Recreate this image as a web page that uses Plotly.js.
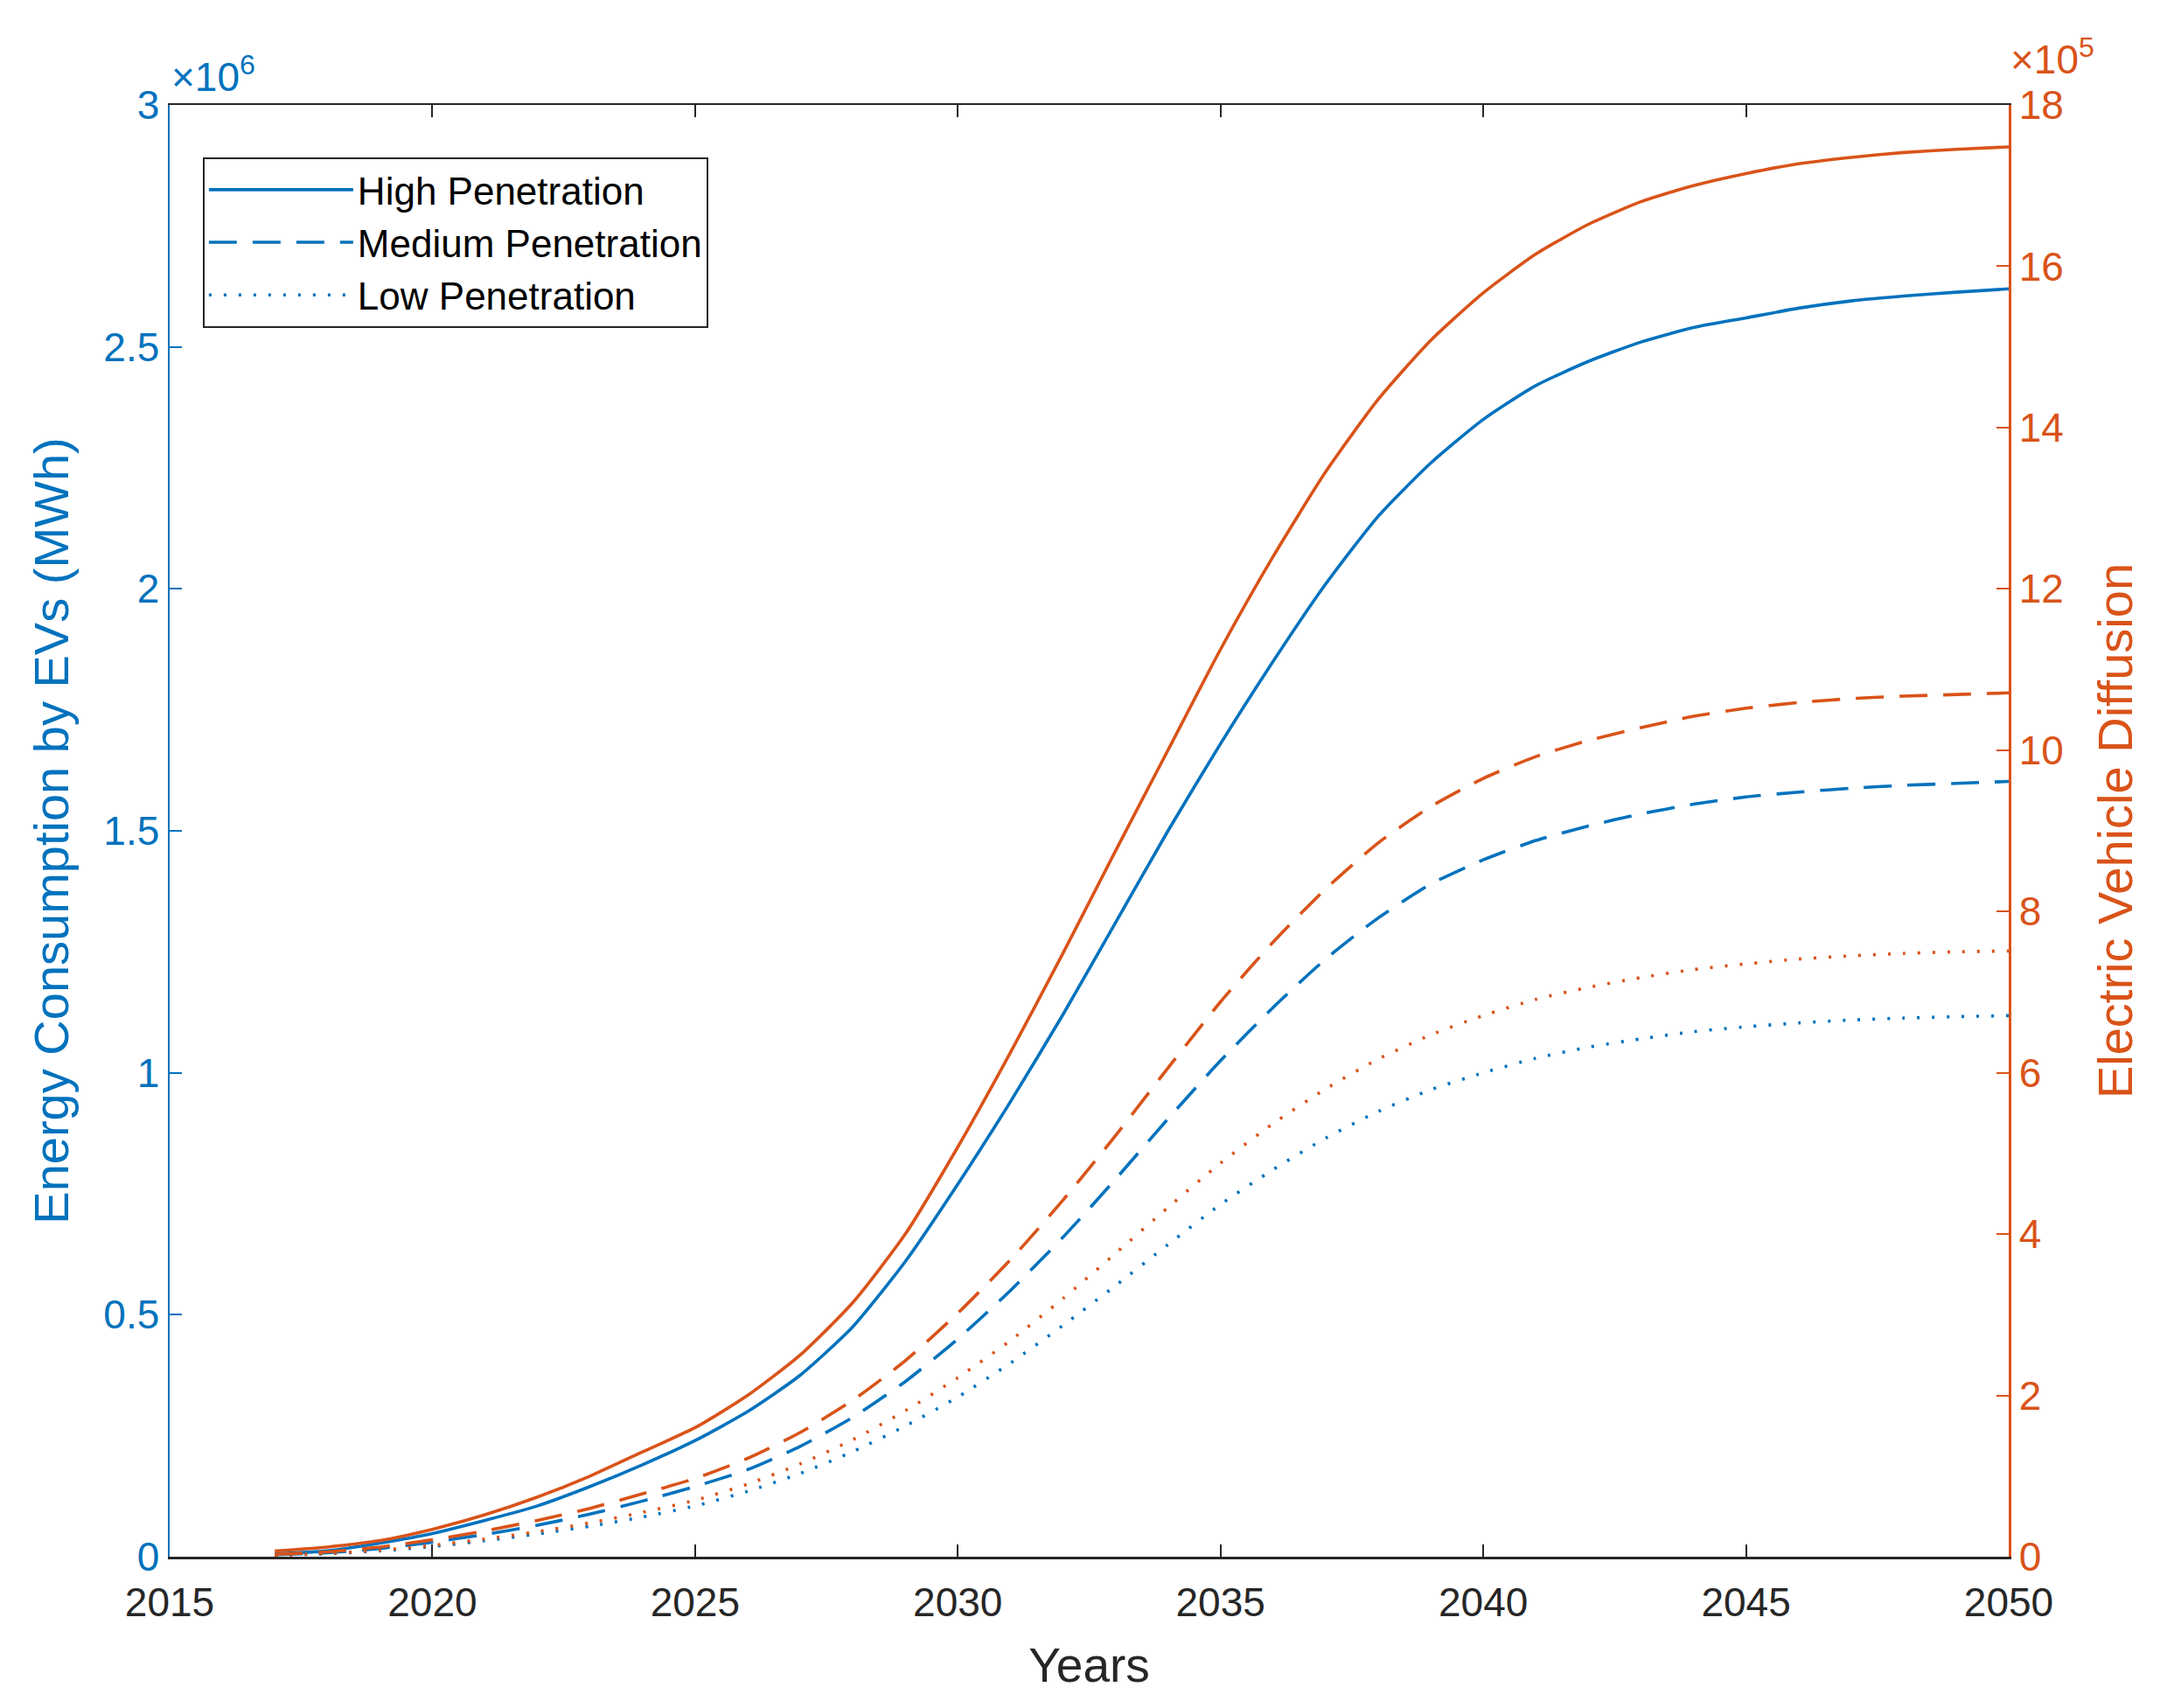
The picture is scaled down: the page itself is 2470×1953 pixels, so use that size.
<!DOCTYPE html>
<html>
<head>
<meta charset="utf-8">
<script src="https://cdn.plot.ly/plotly-3.0.1.min.js"></script>
<style>html,body{margin:0;padding:0;background:#fff;}#chart{width:2470px;height:1953px;}</style>
</head>
<body>
<div id="chart"></div>
<script>
// Years
const years = [2017,2018,2019,2020,2021,2022,2023,2024,2025,2026,2027,2028,2029,2030,2031,2032,2033,2034,2035,2036,2037,2038,2039,2040,2041,2042,2043,2044,2045,2046,2047,2048,2049,2050];

// Energy consumption by EVs (x 10^6 MWh) - left axis
const energyHigh = [0.006,0.012,0.028,0.048,0.075,0.105,0.145,0.19,0.24,0.30,0.375,0.475,0.61,0.77,0.94,1.12,1.31,1.50,1.68,1.85,2.01,2.15,2.26,2.35,2.42,2.47,2.51,2.54,2.56,2.58,2.595,2.605,2.613,2.62];
const energyMedium = [0.004,0.008,0.017,0.03,0.046,0.065,0.088,0.115,0.145,0.18,0.228,0.288,0.362,0.45,0.55,0.66,0.78,0.905,1.025,1.135,1.235,1.32,1.39,1.44,1.48,1.51,1.535,1.555,1.57,1.58,1.588,1.594,1.598,1.602];
const energyLow = [0.003,0.006,0.012,0.021,0.033,0.047,0.063,0.082,0.105,0.135,0.172,0.217,0.27,0.33,0.40,0.478,0.56,0.645,0.728,0.80,0.865,0.92,0.965,1.0,1.03,1.053,1.07,1.085,1.095,1.103,1.109,1.113,1.116,1.118];

// Electric vehicle diffusion (x 10^5 vehicles) - right axis
const evHigh = [0.07,0.12,0.2,0.34,0.52,0.74,1.0,1.3,1.6,2.0,2.5,3.15,4.0,5.08,6.25,7.48,8.75,10.0,11.25,12.4,13.45,14.35,15.08,15.67,16.15,16.52,16.8,17.0,17.15,17.27,17.35,17.41,17.45,17.48];
const evMedium = [0.03,0.06,0.12,0.21,0.32,0.45,0.6,0.78,0.97,1.22,1.54,1.94,2.43,3.02,3.68,4.42,5.22,6.06,6.88,7.62,8.28,8.85,9.3,9.65,9.92,10.12,10.28,10.42,10.52,10.59,10.64,10.67,10.69,10.71];
const evLow = [0.02,0.04,0.08,0.14,0.22,0.31,0.42,0.55,0.70,0.90,1.15,1.45,1.81,2.22,2.68,3.2,3.76,4.33,4.88,5.37,5.8,6.17,6.47,6.71,6.91,7.06,7.18,7.28,7.35,7.41,7.45,7.48,7.5,7.51];

const seriesNames = ['High Penetration','Medium Penetration','Low Penetration'];

// Tick labels
const xTicks = [2015,2020,2025,2030,2035,2040,2045,2050];
const yLeftTicks = [0,0.5,1,1.5,2,2.5,3];
const yLeftTickText = ['0','0.5','1','1.5','2','2.5','3'];
const yRightTicks = [0,2,4,6,8,10,12,14,16,18];

const BLUE = '#0072BD';
const ORANGE = '#D95319';
const FONT = 'Liberation Sans, Arial, Helvetica, sans-serif';
const dashes = ['solid','32px,18px','3px,14px'];

const energySets = [energyHigh, energyMedium, energyLow];
const evSets = [evHigh, evMedium, evLow];

const traces = [];
energySets.forEach((ys, i) => {
  traces.push({x: years, y: ys, type: 'scatter', mode: 'lines', name: seriesNames[i],
    line: {color: BLUE, width: 3.6, dash: dashes[i], shape: 'spline', smoothing: 0.6}, yaxis: 'y', showlegend: true});
});
evSets.forEach((ys, i) => {
  traces.push({x: years, y: ys, type: 'scatter', mode: 'lines', name: seriesNames[i] + ' (EVs)',
    line: {color: ORANGE, width: 3.6, dash: dashes[i], shape: 'spline', smoothing: 0.6}, yaxis: 'y2', showlegend: false});
});

const layout = {
  width: 2470, height: 1953,
  margin: {l: 194, r: 173, t: 120, b: 173, pad: 0},
  paper_bgcolor: '#fff', plot_bgcolor: '#fff',
  font: {family: FONT, size: 46, color: '#262626'},
  showlegend: true,
  legend: {x: 0.018, y: 0.964, xanchor: 'left', yanchor: 'top',
    bgcolor: '#fff', bordercolor: '#262626', borderwidth: 2,
    font: {family: FONT, size: 44, color: '#000'}, itemwidth: 165, tracegroupgap: 0},
  xaxis: {range: [2015, 2050], tickvals: xTicks, ticktext: xTicks.map(String),
    showgrid: false, zeroline: false, showline: true, linecolor: '#262626', linewidth: 2.5,
    mirror: 'ticks', ticks: 'inside', ticklen: 14, tickwidth: 2, tickcolor: '#262626',
    ticklabelstandoff: 10,
    tickfont: {family: FONT, size: 46, color: '#262626'},
    title: {text: 'Years', font: {family: FONT, size: 55, color: '#262626'}, standoff: 28}},
  yaxis: {range: [0, 3], tickvals: yLeftTicks, ticktext: yLeftTickText,
    showgrid: false, zeroline: false, showline: true, linecolor: BLUE, linewidth: 2.5,
    ticks: 'inside', ticklen: 14, tickwidth: 2, tickcolor: BLUE,
    tickfont: {family: FONT, size: 46, color: BLUE},
    title: {text: 'Energy Consumption by EVs (MWh)', font: {family: FONT, size: 56, color: BLUE}, standoff: 22}},
  yaxis2: {range: [0, 18], tickvals: yRightTicks, ticktext: yRightTicks.map(String),
    overlaying: 'y', side: 'right', anchor: 'x',
    showgrid: false, zeroline: false, showline: true, linecolor: ORANGE, linewidth: 2.5,
    ticks: 'inside', ticklen: 14, tickwidth: 2, tickcolor: ORANGE,
    tickfont: {family: FONT, size: 46, color: ORANGE},
    title: {text: 'Electric Vehicle Diffusion', font: {family: FONT, size: 56, color: ORANGE}, standoff: 40}},
  annotations: [
    {text: '×10<sup>6</sup>', xref: 'paper', yref: 'paper', x: 0, y: 1.0, xanchor: 'left', yanchor: 'bottom',
     yshift: 4, showarrow: false, font: {family: FONT, size: 46, color: BLUE}},
    {text: '×10<sup>5</sup>', xref: 'paper', yref: 'paper', x: 1.0, y: 1.0, xanchor: 'left', yanchor: 'bottom',
     yshift: 24, showarrow: false, font: {family: FONT, size: 46, color: ORANGE}}
  ]
};

Plotly.newPlot('chart', traces, layout, {displayModeBar: false, staticPlot: true});
</script>
</body>
</html>
